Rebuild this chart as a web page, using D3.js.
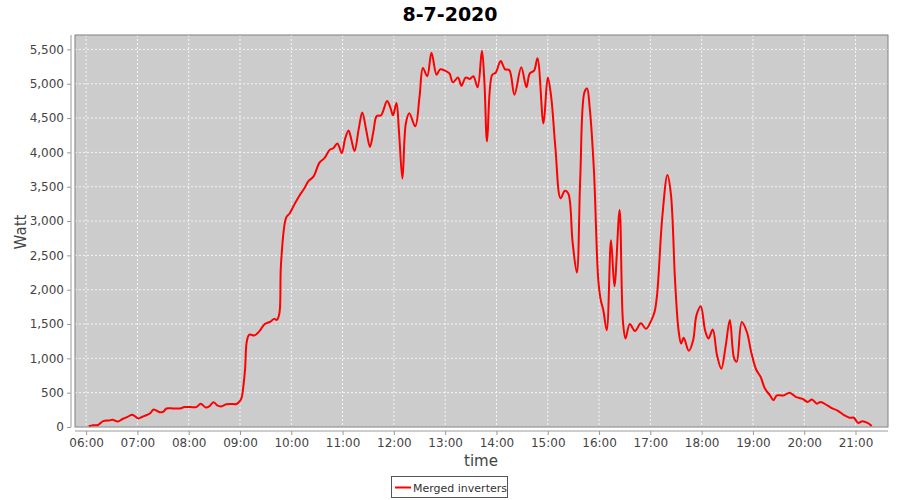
<!doctype html>
<html>
<head>
<meta charset="utf-8">
<title>8-7-2020</title>
<script src="https://cdn.jsdelivr.net/npm/d3@7"></script>
<style>
  body { margin: 0; background: #fff; }
  text { font-family: "DejaVu Sans", sans-serif; }
</style>
</head>
<body>
<svg width="900" height="500"></svg>
<script>
// tijdstippen en vermogen (W)
var times = ["06:03","06:08","06:14","06:20","06:27","06:31","06:37","06:43","06:49","06:54",
  "07:01","07:06","07:11","07:15","07:19","07:26","07:30","07:34","07:42","07:50","07:55",
  "08:02","08:09","08:14","08:20","08:24","08:29","08:34","08:38","08:44","08:50","08:56",
  "09:00","09:02","09:04","09:06","09:08","09:11","09:17","09:23","09:29","09:35","09:40","09:43","09:46","09:48","09:54","09:58",
  "10:04","10:10","10:15","10:20","10:26","10:33","10:39","10:45","10:49","10:54","10:59",
  "11:03","11:07","11:10","11:14","11:19","11:23","11:28","11:32","11:36","11:40","11:45","11:52","11:56","11:59",
  "12:03","12:06","12:10","12:14","12:18","12:25","12:30","12:34","12:39","12:44","12:50","12:54",
  "13:00","13:05","13:09","13:15","13:19","13:24","13:29","13:33","13:38","13:43","13:46","13:49","13:55","13:59",
  "14:05","14:10","14:15","14:21","14:29","14:35","14:39","14:44","14:48","14:55",
  "15:00","15:04","15:09","15:15","15:20","15:24","15:29","15:34","15:38","15:43","15:46","15:49","15:54","15:59",
  "16:02","16:05","16:09","16:14","16:18","16:24","16:28","16:31","16:36","16:42","16:49","16:55",
  "17:01","17:05","17:08","17:14","17:20","17:24","17:29","17:33","17:36","17:39","17:45","17:50","17:54","17:59",
  "18:04","18:08","18:13","18:18","18:23","18:28","18:33","18:38","18:41","18:47","18:53","18:58",
  "19:04","19:09","19:14","19:20","19:24","19:28","19:36","19:43","19:50","19:58",
  "20:04","20:09","20:15","20:19","20:27","20:33","20:39","20:47","20:53","20:58",
  "21:03","21:08","21:14","21:19"];
var watts = [10,25,30,85,95,105,80,120,150,180,
  125,150,175,200,255,215,220,270,270,270,290,
  290,290,340,285,300,360,310,300,330,335,335,
  380,430,600,850,1250,1345,1335,1400,1500,1530,1575,1560,1650,2380,3050,3110,
  3250,3380,3470,3580,3650,3850,3920,4040,4060,4130,3990,
  4200,4320,4200,4020,4350,4580,4300,4080,4300,4530,4540,4750,4650,4540,
  4720,4300,3620,4420,4570,4380,4810,5230,5110,5450,5130,5210,
  5190,5150,5020,5090,4970,5090,5070,5110,4950,5480,5000,4160,5130,5160,
  5330,5210,5200,4840,5240,4950,5150,5190,5370,4420,
  5090,4810,4060,3330,3440,3400,2700,2250,3620,4880,4930,4660,3740,2160,
  1850,1700,1410,2720,2050,3160,1530,1290,1500,1400,1510,1430,
  1550,1680,1940,3060,3670,3400,2110,1410,1215,1300,1110,1260,1630,1760,
  1410,1290,1420,1045,850,1170,1560,1000,950,1530,1380,1090,
  830,730,560,460,390,460,460,500,440,410,
  365,400,340,365,315,270,240,170,135,135,
  60,85,60,15];
var yTicks = [0,500,1000,1500,2000,2500,3000,3500,4000,4500,5000,5500];
var title = "8-7-2020", seriesName = "Merged inverters";

var svg = d3.select("svg");
var parse = d3.timeParse("%H:%M");
var data = times.map(function (t, i) { return {t: parse(t), v: watts[i]}; });

var pLeft = 75, pRight = 888, pTop = 35, pBottom = 427;

var x = d3.scaleTime().domain([parse("05:47"), parse("21:38")]).range([pLeft, pRight]);
var y = d3.scaleLinear().domain([0, 5710]).range([pBottom, pTop]);

// titel
svg.append("text").attr("x", 450).attr("y", 21).attr("text-anchor", "middle")
  .style("font-size", "19px").style("font-weight", "bold").attr("fill", "#000").text(title);

// plotvlak
svg.append("rect").attr("x", pLeft).attr("y", pTop).attr("width", pRight - pLeft).attr("height", pBottom - pTop)
  .attr("fill", "#cccccc");

var xt = d3.timeHour.range(parse("06:00"), parse("21:30"));
svg.append("g").selectAll("line").data(xt).enter().append("line")
  .attr("x1", function (d) { return x(d); }).attr("x2", function (d) { return x(d); })
  .attr("y1", pTop).attr("y2", pBottom)
  .attr("stroke", "#fff").attr("stroke-width", 0.8).attr("stroke-dasharray", "2,2");
svg.append("g").selectAll("line").data(yTicks).enter().append("line")
  .attr("x1", pLeft).attr("x2", pRight)
  .attr("y1", function (d) { return y(d); }).attr("y2", function (d) { return y(d); })
  .attr("stroke", "#fff").attr("stroke-width", 0.8).attr("stroke-dasharray", "2,2");

// assen
var yAxis = svg.append("g").attr("transform", "translate(71,0)")
  .call(d3.axisLeft(y).tickValues(yTicks).tickFormat(d3.format(",")).tickSizeOuter(0).tickSize(4).tickPadding(3));
var xAxis = svg.append("g").attr("transform", "translate(0,431)")
  .call(d3.axisBottom(x).tickValues(xt).tickFormat(d3.timeFormat("%H:%M")).tickSizeOuter(0).tickSize(4).tickPadding(3));
[yAxis, xAxis].forEach(function (a) {
  a.selectAll("text").style("font-size", "12px").attr("fill", "#444");
  a.selectAll("line").attr("stroke", "#999");
  a.select(".domain").attr("stroke", "#999");
});
yAxis.select(".domain").attr("d", "M0," + pTop + "V" + pBottom);
xAxis.select(".domain").attr("d", "M" + pLeft + ",0H" + pRight);

// lijn
var line = d3.line().x(function (d) { return x(d.t); }).y(function (d) { return y(d.v); })
  .curve(d3.curveCatmullRom);
svg.append("path").datum(data).attr("d", line)
  .attr("fill", "none").attr("stroke", "#ff0000").attr("stroke-width", 2);

svg.append("rect").attr("x", pLeft).attr("y", pTop).attr("width", pRight - pLeft).attr("height", pBottom - pTop)
  .attr("fill", "none").attr("stroke", "#808080").attr("stroke-width", 1);

// aslabels
svg.append("text").attr("transform", "translate(26,232) rotate(-90)").attr("text-anchor", "middle")
  .style("font-size", "15px").attr("fill", "#444").text("Watt");
svg.append("text").attr("x", 481).attr("y", 466).attr("text-anchor", "middle")
  .style("font-size", "15px").attr("fill", "#444").text("time");

// legenda
var lg = svg.append("g");
lg.append("rect").attr("x", 391.5).attr("y", 476.5).attr("width", 116).attr("height", 21)
  .attr("fill", "#fff").attr("stroke", "#555");
lg.append("line").attr("x1", 395).attr("x2", 411).attr("y1", 487.5).attr("y2", 487.5)
  .attr("stroke", "#ff0000").attr("stroke-width", 2);
lg.append("text").attr("x", 413).attr("y", 491.5).style("font-size", "11px").attr("fill", "#333").text(seriesName);
</script>
</body>
</html>
